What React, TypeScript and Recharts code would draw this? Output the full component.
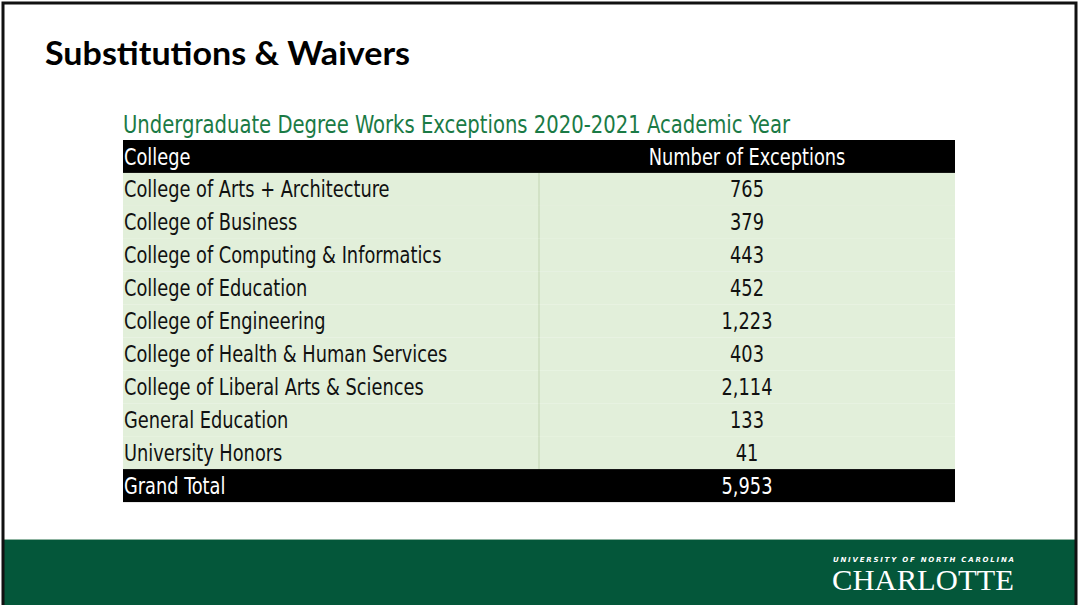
import { BarChart, Bar, XAxis, YAxis, LabelList } from 'recharts';

const colleges = [
  'College of Arts + Architecture',
  'College of Business',
  'College of Computing & Informatics',
  'College of Education',
  'College of Engineering',
  'College of Health & Human Services',
  'College of Liberal Arts & Sciences',
  'General Education',
  'University Honors',
];
const exceptions = [765, 379, 443, 452, 1223, 403, 2114, 133, 41];
const grandTotal = 5953;
const headers = ['College', 'Number of Exceptions'];

const GREEN = '#04573a';
const ROW_BG = '#e2efda';
const TABLE_FONT = '"DejaVu Sans Condensed", "Liberation Sans Narrow", sans-serif';
// the slide uses a narrow face, so squeeze the condensed font a little more
const SQUEEZE = 0.86;

type Row = { label: string; display: string; kind: 'head' | 'body' | 'total'; span: number };

const rows: Row[] = [
  { label: headers[0], display: headers[1], kind: 'head', span: 1 },
  ...colleges.map((c, i) => ({
    label: c,
    display: exceptions[i].toLocaleString('en-US'),
    kind: 'body' as const,
    span: 1,
  })),
  { label: 'Grand Total', display: grandTotal.toLocaleString('en-US'), kind: 'total', span: 1 },
];

const RowShape = (props: any) => {
  const { x, y, width, height, payload } = props;
  const dark = payload.kind !== 'body';
  return (
    <g>
      <rect x={x} y={y} width={width} height={height} fill={dark ? '#000' : ROW_BG} />
      {!dark && (
        <line x1={x + width * 0.5} x2={x + width * 0.5} y1={y} y2={y + height} stroke="#d2e2c6" strokeWidth={2} />
      )}
    </g>
  );
};

const RowText = (props: any) => {
  const { x, y, width, height, index } = props;
  const row = rows[index];
  const color = row.kind === 'body' ? '#111' : '#fff';
  const base = y + height / 2 + 8;
  return (
    <g style={{ fontFamily: TABLE_FONT, fontSize: 23 }} fill={color}>
      <text transform={`translate(${x + 1},${base}) scale(${SQUEEZE},1)`}>{row.label}</text>
      <text transform={`translate(${x + width * 0.75},${base}) scale(${SQUEEZE},1)`} textAnchor="middle">
        {row.display}
      </text>
    </g>
  );
};

export default function App() {
  return (
    <div style={{ position: 'absolute', left: 0, top: 0, width: 1079, height: 605, background: '#fff' }}>
      <BarChart
        width={1079}
        height={605}
        data={rows}
        layout="vertical"
        margin={{ top: 140, right: 124, bottom: 103, left: 123 }}
        barCategoryGap={0}
      >
        <XAxis type="number" domain={[0, 1]} hide />
        <YAxis type="category" dataKey="label" hide />
        <Bar dataKey="span" isAnimationActive={false} shape={RowShape}>
          <LabelList dataKey="display" content={RowText} />
        </Bar>
      </BarChart>
      <svg
        width={1079}
        height={605}
        style={{ position: 'absolute', left: 0, top: 0, pointerEvents: 'none' }}
      >
        <text
          x={45}
          y={65}
          fontFamily="Lato, sans-serif"
          fontWeight={700}
          fontSize={32}
          fill="#000"
          textLength={365}
          lengthAdjust="spacingAndGlyphs"
        >
          Substitutions &amp; Waivers
        </text>
        <text
          x={123}
          y={133}
          fontFamily={TABLE_FONT}
          fontSize={25}
          fill="#1a7a45"
          textLength={667}
          lengthAdjust="spacingAndGlyphs"
        >
          Undergraduate Degree Works Exceptions 2020-2021 Academic Year
        </text>
        <rect x={3} y={539} width={1073} height={66} fill={GREEN} />
        <line x1={3} x2={1076} y1={539.5} y2={539.5} stroke="#8db3a0" strokeWidth={1} />
        <text
          x={833}
          y={562}
          fontFamily="'DejaVu Sans', sans-serif"
          fontWeight={700}
          fontStyle="italic"
          fontSize={7}
          fill="#fff"
          textLength={181}
          lengthAdjust="spacing"
        >
          UNIVERSITY OF NORTH CAROLINA
        </text>
        <text
          x={832}
          y={590}
          fontFamily="'Liberation Serif', serif"
          fontSize={29}
          fill="#fff"
          textLength={182}
          lengthAdjust="spacingAndGlyphs"
        >
          CHARLOTTE
        </text>
        <rect x={3} y={3} width={1073} height={610} fill="none" stroke="#111" strokeWidth={3} />
      </svg>
    </div>
  );
}
